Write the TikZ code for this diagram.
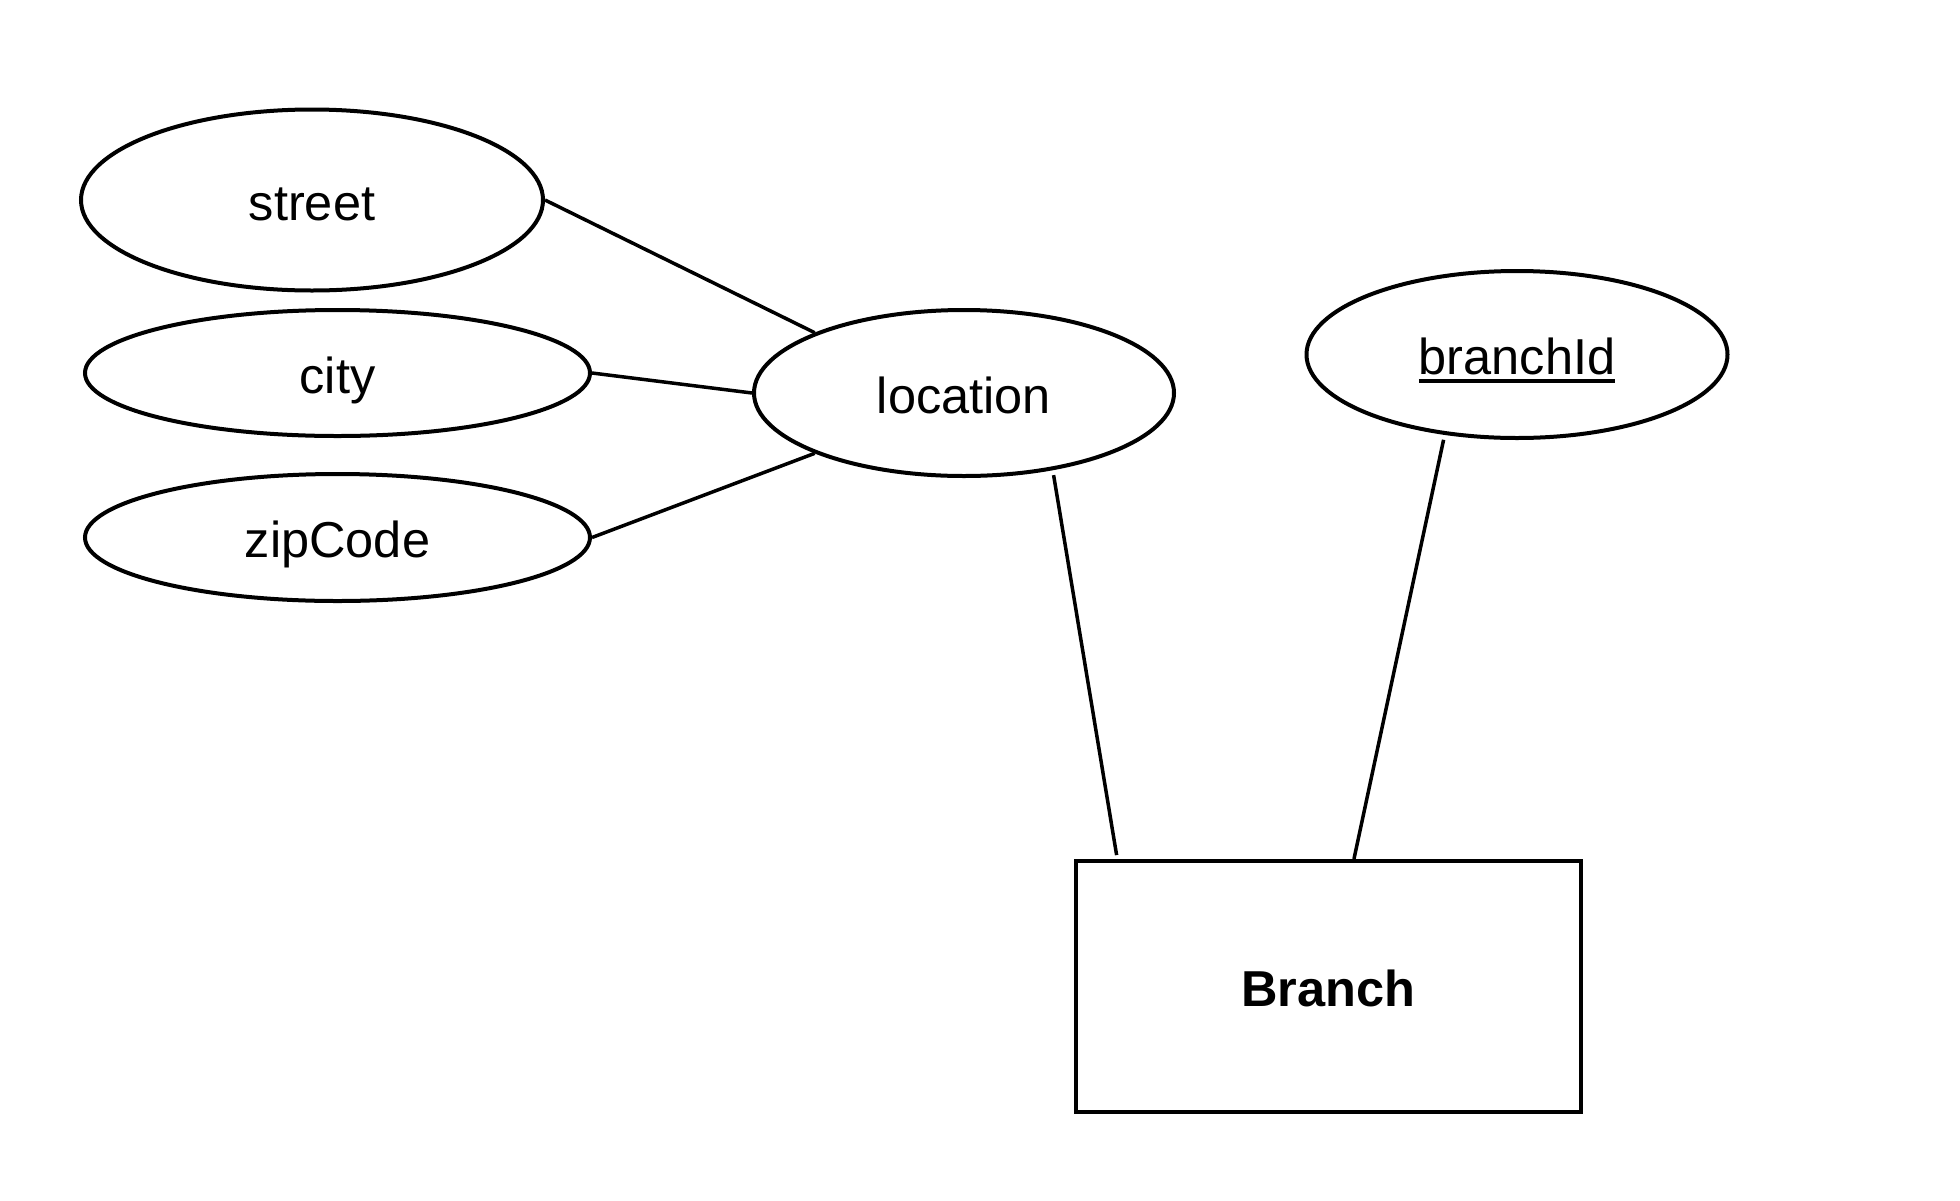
\documentclass[tikz,border=0pt]{standalone}
\usepackage{fontspec}
\setmainfont{Liberation Sans}
\usetikzlibrary{shapes.geometric,calc}
\newcommand\myul[1]{\vtop{\hbox{#1}\kern4pt\hrule height 4pt}}
\begin{document}
\begin{tikzpicture}[x=1pt,y=-1pt,
  attr/.style={ellipse,draw,line width=4pt,inner sep=0pt,text height=40pt,text depth=0pt,font=\fontsize{50.5}{58}\selectfont},
  ent/.style={rectangle,draw,line width=4pt,inner sep=0pt,text height=40pt,text depth=0pt,font=\fontsize{50.5}{58}\selectfont\bfseries},
  conn/.style={line width=3.5pt}]
\useasboundingbox (0,0) rectangle (1960,1200);
\node[attr,minimum width=462pt,minimum height=181pt] (street) at (312,200) {street};
\node[attr,minimum width=505pt,minimum height=126pt] (city) at (337.5,373) {city};
\node[attr,minimum width=505pt,minimum height=127pt] (zip) at (337.5,537.5) {zipCode};
\node[attr,minimum width=420pt,minimum height=166pt] (location) at (964,393) {location};
\node[attr,minimum width=421pt,minimum height=167pt] (bid) at (1517,354.5) {\myul{branchId}};
\node[ent,minimum width=505pt,minimum height=251pt] (branch) at (1328.5,986.5) {Branch};
\draw[conn] (street.east) -- (location.158.8);
\draw[conn] (city.east) -- (location.west);
\draw[conn] (zip.east) -- (location.202);
\draw[conn,shorten <=5pt,shorten >=4pt] (location.-41) -- ($(branch.north west)!0.085!(branch.north east)$);
\draw[conn,shorten <=5pt] (bid.228.5) -- ($(branch.north west)!0.55!(branch.north east)$);
\end{tikzpicture}
\end{document}
